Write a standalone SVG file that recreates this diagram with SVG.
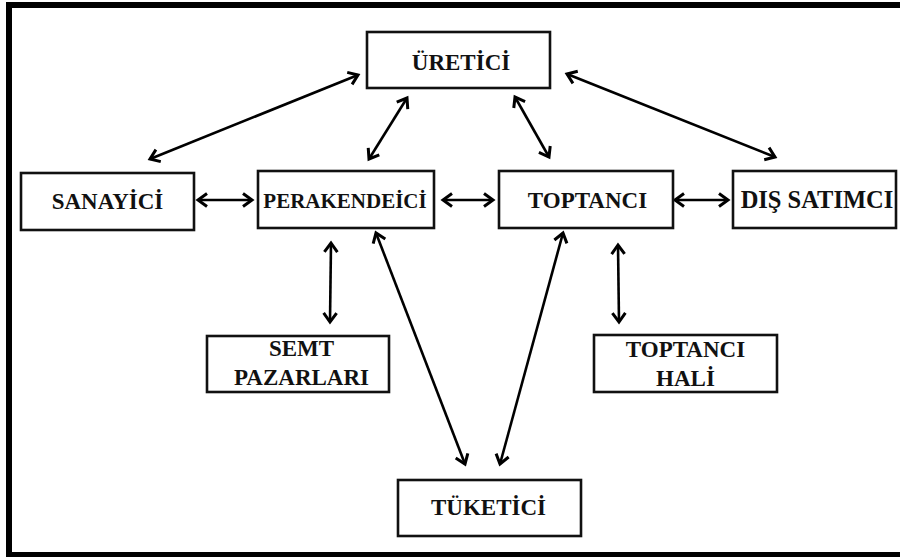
<svg xmlns="http://www.w3.org/2000/svg" width="900" height="557" viewBox="0 0 900 557">
<defs>
<marker id="ah" markerUnits="userSpaceOnUse" markerWidth="20" markerHeight="20" viewBox="-12 -10 14 20" refX="0" refY="0" orient="auto-start-reverse">
<path d="M -9 -6.5 L 0 0 L -9 6.5" fill="none" stroke="#000" stroke-width="3" stroke-linejoin="miter"/>
</marker>
<style>
.box{fill:#fff;stroke:#111;stroke-width:2.6}
.lbl{font-weight:bold;font-size:23px;fill:#111;text-anchor:middle}
.con{stroke:#000;stroke-width:2.6;fill:none;marker-start:url(#ah);marker-end:url(#ah)}
</style>
</defs>
<rect x="0" y="0" width="900" height="557" fill="#fff"/>
<g id="frame" fill="#000">
<rect x="6" y="2" width="894" height="6"/>
<rect x="6" y="2" width="6" height="555"/>
<rect x="6" y="552" width="894" height="5"/>
</g>
<g id="connectors">
<line class="con" x1="150" y1="159" x2="358" y2="75"/>
<line class="con" x1="407" y1="98" x2="369" y2="159"/>
<line class="con" x1="515" y1="97" x2="549" y2="157"/>
<line class="con" x1="567" y1="74" x2="775" y2="157"/>
<line class="con" x1="198" y1="200" x2="252" y2="200"/>
<line class="con" x1="443" y1="200" x2="493" y2="200"/>
<line class="con" x1="675" y1="200" x2="728" y2="200"/>
<line class="con" x1="331" y1="243" x2="330" y2="322"/>
<line class="con" x1="376" y1="233" x2="465" y2="464"/>
<line class="con" x1="563" y1="233" x2="500" y2="464"/>
<line class="con" x1="618" y1="245" x2="619" y2="322"/>
</g>
<g font-family="'Liberation Serif', 'Times New Roman', serif">
<g id="uretici">
<rect class="box" x="367" y="32" width="183" height="56"/>
<text class="lbl" x="461" y="70">ÜRETİCİ</text>
</g>
<g id="sanayici">
<rect class="box" x="21" y="173" width="173" height="57"/>
<text class="lbl" x="107.5" y="209">SANAYİCİ</text>
</g>
<g id="perakendeici">
<rect class="box" x="258" y="171" width="176" height="57"/>
<text class="lbl" x="345" y="208" style="font-size:21px">PERAKENDEİCİ</text>
</g>
<g id="toptanci">
<rect class="box" x="499" y="171" width="174" height="57"/>
<text class="lbl" x="587.5" y="208">TOPTANCI</text>
</g>
<g id="dis-satimci">
<rect class="box" x="733" y="171" width="163" height="57"/>
<text class="lbl" x="817" y="208" style="font-size:24.5px">DIŞ SATIMCI</text>
</g>
<g id="semt-pazarlari">
<rect class="box" x="207" y="336" width="182" height="56"/>
<text class="lbl" x="301.5" y="356">SEMT</text>
<text class="lbl" x="301.5" y="385">PAZARLARI</text>
</g>
<g id="toptanci-hali">
<rect class="box" x="594" y="335" width="183" height="57"/>
<text class="lbl" x="685.5" y="357">TOPTANCI</text>
<text class="lbl" x="685.5" y="386">HALİ</text>
</g>
<g id="tuketici">
<rect class="box" x="398" y="480" width="183" height="56"/>
<text class="lbl" x="488.5" y="515">TÜKETİCİ</text>
</g>
</g>
</svg>
